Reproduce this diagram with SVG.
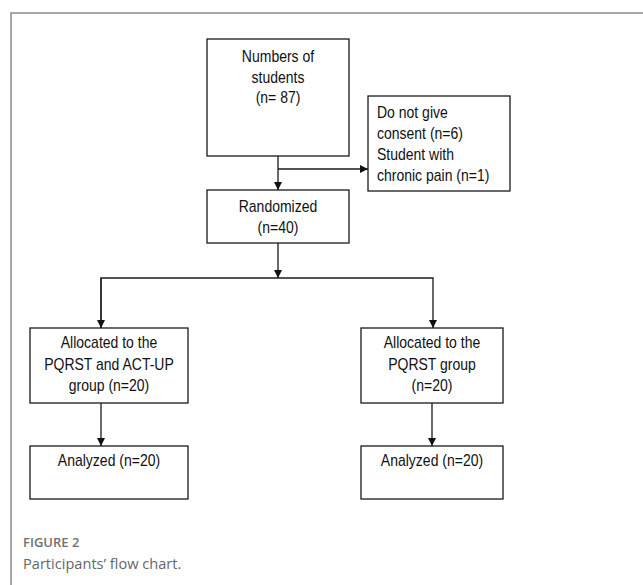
<svg xmlns="http://www.w3.org/2000/svg" width="643" height="585" viewBox="0 0 643 585">
<defs>
<style>
.box{fill:#fff;stroke:#1a1a1a;stroke-width:1.3}
.t{font-family:"Liberation Sans",Arial,sans-serif;font-size:14px;fill:#111}
.c{text-anchor:middle}
.ln{fill:none;stroke:#1a1a1a;stroke-width:1.3}
.cap1{font-family:"Open Sans","Noto Sans",sans-serif;font-size:13px;font-weight:600;fill:#707070}
.cap2{font-family:"Open Sans","Noto Sans",sans-serif;font-size:14.6px;fill:#666}
</style>
<marker id="ah" markerUnits="userSpaceOnUse" markerWidth="9" markerHeight="9" refX="8" refY="4" orient="auto">
<path d="M0,0 L8,4 L0,8 z" fill="#111"/>
</marker>
</defs>
<rect width="643" height="585" fill="#fff"/>
<path d="M11,585 V13 H643" fill="none" stroke="#8a8a8a" stroke-width="1.5"/>

<g id="connectors">
<path class="ln" d="M278,156 V190" marker-end="url(#ah)"/>
<path class="ln" d="M278,169 H368" marker-end="url(#ah)"/>
<path class="ln" d="M278,243 V278" marker-end="url(#ah)"/>
<path class="ln" d="M101,328 V278 H433 V328" marker-end="url(#ah)"/>
<path class="ln" d="M101,278 V328" marker-end="url(#ah)"/>
<path class="ln" d="M101,403 V446" marker-end="url(#ah)"/>
<path class="ln" d="M432,403 V446" marker-end="url(#ah)"/>
</g>

<g id="students">
<rect class="box" x="207" y="39" width="142" height="117"/>
<text class="t c" transform="translate(278 62) scale(1 1.15)">Numbers of</text>
<text class="t c" transform="translate(278 83) scale(1 1.15)">students</text>
<text class="t c" transform="translate(278 103) scale(1 1.15)">(n= 87)</text>
</g>

<g id="excluded">
<rect class="box" x="368" y="96" width="142" height="95"/>
<text class="t" transform="translate(377 117.5) scale(1 1.15)">Do not give</text>
<text class="t" transform="translate(377 139) scale(1 1.15)">consent (n=6)</text>
<text class="t" transform="translate(377 160) scale(1 1.15)">Student with</text>
<text class="t" transform="translate(377 181) scale(1 1.15)">chronic pain (n=1)</text>
</g>

<g id="randomized">
<rect class="box" x="207" y="190" width="142" height="53"/>
<text class="t c" transform="translate(278 212) scale(1 1.15)">Randomized</text>
<text class="t c" transform="translate(278 233) scale(1 1.15)">(n=40)</text>
</g>

<g id="alloc-left">
<rect class="box" x="30" y="328" width="158" height="75"/>
<text class="t c" transform="translate(109 348) scale(1 1.15)">Allocated to the</text>
<text class="t c" transform="translate(109 370) scale(1 1.15)">PQRST and ACT-UP</text>
<text class="t c" transform="translate(109 391) scale(1 1.15)">group (n=20)</text>
</g>

<g id="alloc-right">
<rect class="box" x="361" y="328" width="142" height="75"/>
<text class="t c" transform="translate(432 348) scale(1 1.15)">Allocated to the</text>
<text class="t c" transform="translate(432 370) scale(1 1.15)">PQRST group</text>
<text class="t c" transform="translate(432 391) scale(1 1.15)">(n=20)</text>
</g>

<g id="analyzed-left">
<rect class="box" x="30" y="446" width="158" height="53"/>
<text class="t c" transform="translate(109 466) scale(1 1.15)">Analyzed (n=20)</text>
</g>

<g id="analyzed-right">
<rect class="box" x="361" y="446" width="142" height="53"/>
<text class="t c" transform="translate(432 466) scale(1 1.15)">Analyzed (n=20)</text>
</g>

<text class="cap1" x="23" y="547">FIGURE 2</text>
<text class="cap2" x="23" y="569">Participants’ flow chart.</text>
</svg>
